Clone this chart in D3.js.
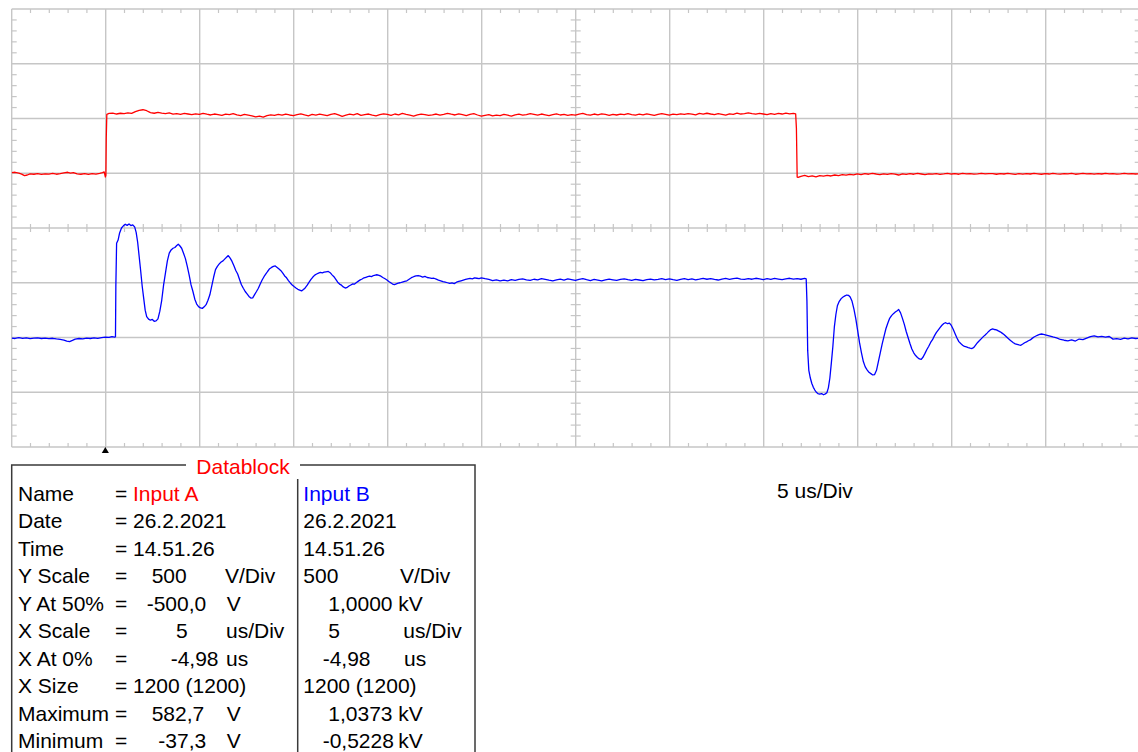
<!DOCTYPE html>
<html><head><meta charset="utf-8">
<script src="https://cdn.jsdelivr.net/npm/d3@7"></script>
<style>
body{margin:0;background:#fff;overflow:hidden}
svg{display:block}
text{font-family:"Liberation Sans",Arial,sans-serif;font-size:21px;fill:#000}
</style>
</head><body>
<svg id="c" width="1138" height="752"></svg>
<script>
// ---------------- DATA ----------------
// Scope settings (from the datablock)
const xStart = -4.98;     // X At 0%  (us)
const usPerDiv = 5;       // X Scale
const xDivs = 12, yDivs = 8;
const aVoltsPerDiv = 500, aAt50 = -500;   // Input A
const bVoltsPerDiv = 500, bAt50 = 1000;   // Input B

// Input A trace: [time us, volts]
const inputA = [
[-4.98,6],[-4.8,9],[-4.6,2],[-4.45,-8],[-4.3,-22],[-4.15,-16],[-4.0,-6],[-3.8,-9],[-3.6,-3],[-3.4,-10],[-3.2,-5],[-3.0,-8],[-2.8,-2],[-2.6,-9],[-2.4,-4],[-2.2,3],[-2.0,9],[-1.85,2],[-1.7,6],[-1.5,-5],[-1.3,-9],[-1.1,-3],[-0.9,-11],[-0.7,-4],[-0.5,-8],[-0.3,-2],[-0.15,5],[-0.06,12],[0.0,-34],[0.03,-18],
[0.05,320],[0.08,538],
[0.2,546],[0.4,549],[0.6,541],[0.8,548],[1.0,544],[1.2,552],[1.4,546],[1.6,562],[1.8,574],[2.0,580],[2.2,571],[2.4,553],[2.6,548],[2.8,556],[3.0,549],[3.2,545],[3.4,551],[3.6,540],[3.8,544],[4.0,538],[4.2,546],[4.4,541],[4.6,535],[4.8,543],[5.0,537],[5.2,547],[5.4,539],[5.6,532],[5.8,541],[6.0,536],[6.2,529],[6.4,540],[6.6,535],[6.8,544],[7.0,533],[7.2,527],[7.4,538],[7.6,531],[7.8,524],[8.0,515],[8.2,521],[8.4,512],[8.6,526],[8.8,533],[9.0,528],[9.2,537],[9.4,530],[9.6,541],[9.8,532],[10.0,527],[10.2,536],[10.4,543],[10.6,533],[10.8,525],[11.0,537],[11.2,531],[11.4,540],[11.6,534],[11.8,526],[12.0,538],[12.2,545],[12.4,533],[12.6,520],[12.8,531],[13.0,539],[13.2,534],[13.4,544],[13.6,528],[13.8,536],[14.0,541],[14.2,530],[14.4,524],[14.6,535],[14.8,543],[15.0,537],[15.2,529],[15.4,541],[15.6,534],[15.8,546],[16.0,538],[16.2,531],[16.4,522],[16.6,533],[16.8,540],[17.0,536],[17.2,528],[17.4,534],[17.6,541],[17.8,530],[18.0,537],[18.2,547],[18.4,539],[18.6,532],[18.8,542],[19.0,535],[19.2,527],[19.4,537],[19.6,544],[19.8,532],[20.0,521],[20.2,529],[20.4,536],[20.6,524],[20.8,531],[21.0,527],[21.2,537],[21.4,530],[21.6,522],[21.8,533],[22.0,540],[22.2,531],[22.4,536],[22.6,545],[22.8,538],[23.0,530],[23.2,541],[23.4,534],[23.6,527],[23.8,536],[24.0,543],[24.2,532],[24.4,538],[24.6,529],[24.8,535],[25.0,531],[25.2,540],[25.4,547],[25.6,536],[25.8,530],[26.0,541],[26.2,534],[26.4,543],[26.6,537],[26.8,529],[27.0,538],[27.2,532],[27.4,540],[27.6,535],[27.8,544],[28.0,536],[28.2,530],[28.4,539],[28.6,533],[28.8,542],[29.0,536],[29.2,528],[29.4,537],[29.6,545],[29.8,538],[30.0,531],[30.2,540],[30.4,535],[30.6,543],[30.8,537],[31.0,545],[31.2,539],[31.4,533],[31.6,546],[31.8,540],[32.0,548],[32.2,541],[32.4,535],[32.6,544],[32.8,538],[33.0,531],[33.2,543],[33.4,537],[33.6,549],[33.8,541],[34.0,545],[34.2,552],[34.4,544],[34.6,539],[34.8,547],[35.0,541],[35.2,535],[35.4,544],[35.6,538],[35.8,546],[36.0,541],[36.2,549],[36.4,543],[36.6,547],[36.72,542],
[36.76,410],[36.8,-35],[36.85,-37],
[37.0,-28],[37.2,-20],[37.4,-30],[37.6,-24],[37.8,-33],[38.0,-22],[38.2,-27],[38.4,-19],[38.6,-25],[38.8,-16],[39.0,-21],[39.2,-13],[39.4,-18],[39.6,-10],[39.8,-15],[40.0,-6],[40.2,-12],[40.4,-4],[40.6,-9],[40.8,-2],[41.0,-7],[41.2,-13],[41.4,-5],[41.6,-10],[41.8,-3],[42.0,-8],[42.2,-16],[42.4,-6],[42.6,-11],[42.8,-4],[43.0,-9],[43.2,-2],[43.4,-7],[43.6,-12],[43.8,-5],[44.0,-8],[44.2,-3],[44.4,-10],[44.6,-6],[44.8,-1],[45.0,-7],[45.2,-4],[45.4,-9],[45.6,-2],[45.8,-6],[46.0,-3],[46.2,-8],[46.4,-5],[46.6,-1],[46.8,-6],[47.0,-4],[47.2,-4],[47.4,-9],[47.6,-3],[47.8,-7],[48.0,-2],[48.2,-6],[48.4,-10],[48.6,-4],[48.8,-8],[49.0,-3],[49.2,-7],[49.4,-2],[49.6,-5],[49.8,-9],[50.0,-4],[50.2,-7],[50.4,-1],[50.6,-5],[50.8,-8],[51.0,-3],[51.2,-6],[51.4,-2],[51.6,-9],[51.8,-5],[52.0,-1],[52.2,-6],[52.4,-3],[52.6,-8],[52.8,-4],[53.0,-7],[53.2,-2],[53.4,-6],[53.6,-3],[53.8,-8],[54.0,-5],[54.2,-1],[54.4,-6],[54.6,-3],[54.8,-7],[55.02,-4]
];

// Input B trace: [time us, volts]
const inputB = [
[-4.98,-5],[-4.8,-9],[-4.6,-2],[-4.4,-8],[-4.2,-4],[-4.0,-10],[-3.8,-6],[-3.6,-3],[-3.4,-9],[-3.2,-5],[-3.0,-11],[-2.8,-7],[-2.6,-13],[-2.4,-18],[-2.2,-24],[-2.05,-33],[-1.9,-38],[-1.75,-27],[-1.6,-15],[-1.4,-9],[-1.2,-13],[-1.0,-5],[-0.8,-9],[-0.6,-3],[-0.4,-8],[-0.2,-1],[0.0,4],[0.2,1],[0.35,8],[0.5,3],[0.54,7],
[0.56,470],[0.6,860],[0.68,890],[0.76,955],[0.86,1000],[0.96,1020],[1.06,1034],[1.16,1024],[1.26,1037],[1.36,1022],[1.46,1028],[1.56,1010],[1.64,960],[1.72,870],[1.8,740],[1.88,610],[1.96,470],[2.04,360],[2.12,250],[2.2,190],[2.3,168],[2.4,158],[2.5,165],[2.6,148],[2.7,152],[2.8,170],[2.9,240],[3.0,340],[3.1,480],[3.2,590],[3.3,700],[3.4,770],[3.5,800],[3.6,815],[3.7,822],[3.8,840],[3.88,852],[3.96,838],[4.06,815],[4.16,770],[4.26,720],[4.36,650],[4.46,570],[4.56,480],[4.66,420],[4.76,350],[4.86,305],[4.96,282],[5.06,270],[5.16,266],[5.26,280],[5.36,300],[5.46,340],[5.56,390],[5.66,470],[5.76,550],[5.86,620],[5.96,650],[6.06,672],[6.16,690],[6.26,700],[6.36,718],[6.46,735],[6.54,748],[6.64,725],[6.74,695],[6.84,655],[6.94,612],[7.04,580],[7.14,530],[7.24,482],[7.34,450],[7.44,420],[7.54,398],[7.64,375],[7.74,360],[7.84,362],[7.94,392],[8.04,420],[8.14,450],[8.24,488],[8.34,525],[8.44,555],[8.54,580],[8.64,605],[8.74,628],[8.84,640],[8.94,650],[9.04,654],[9.14,640],[9.24,625],[9.34,610],[9.44,588],[9.54,562],[9.64,545],[9.74,520],[9.84,498],[9.94,480],[10.04,465],[10.14,452],[10.24,440],[10.34,433],[10.44,426],[10.54,438],[10.64,455],[10.74,478],[10.84,505],[10.94,530],[11.04,552],[11.14,570],[11.24,580],[11.34,588],[11.44,594],[11.54,590],[11.64,596],[11.74,600],[11.86,603],[11.96,592],[12.06,572],[12.16,555],[12.26,530],[12.36,505],[12.46,488],[12.56,478],[12.66,462],[12.76,452],[12.84,455],[12.96,470],[13.06,480],[13.16,490],[13.26,488],[13.36,502],[13.46,515],[13.56,526],[13.66,534],[13.76,545],[13.86,550],[13.96,555],[14.06,560],[14.16,556],[14.26,566],[14.36,570],[14.44,573],[14.56,568],[14.66,560],[14.76,548],[14.88,536],[14.98,525],[15.08,512],[15.18,500],[15.28,488],[15.38,483],[15.48,490],[15.58,496],[15.68,500],[15.8,506],[15.92,512],[16.04,518],[16.16,532],[16.28,546],[16.4,555],[16.52,562],[16.64,566],[16.76,560],[16.88,552],[17.0,558],[17.12,548],[17.24,544],[17.36,540],[17.48,541],[17.6,533],[17.72,524],[17.84,518],[17.96,510],[18.08,506],[18.2,500],[18.32,494],[18.44,498],[18.56,492],[18.68,505],[18.8,512],[18.92,518],[19.04,524],[19.16,530],[19.28,535],[19.4,540],[19.52,536],[19.64,544],[19.76,541],[19.88,538],[20.0,545],
[20.2,537],[20.4,530],[20.6,520],[20.8,526],[21.0,518],[21.2,524],[21.4,517],[21.6,528],[21.8,522],[22.0,530],[22.2,535],[22.4,527],[22.6,521],[22.8,532],[23.0,526],[23.2,538],[23.4,531],[23.6,524],[23.8,518],[24.0,527],[24.2,533],[24.4,525],[24.6,536],[24.8,529],[25.0,522],[25.2,531],[25.4,537],[25.6,528],[25.8,520],[26.0,530],[26.2,524],[26.4,517],[26.6,526],[26.8,533],[27.0,527],[27.2,521],[27.4,530],[27.6,535],[27.8,528],[28.0,522],[28.2,531],[28.4,525],[28.6,519],[28.8,528],[29.0,533],[29.2,526],[29.4,531],[29.6,537],[29.8,529],[30.0,535],[30.2,528],[30.4,522],[30.6,531],[30.8,538],[31.0,529],[31.2,535],[31.4,527],[31.6,533],[31.8,540],[32.0,532],[32.2,538],[32.4,530],[32.6,525],[32.8,534],[33.0,539],[33.2,531],[33.4,537],[33.6,543],[33.8,534],[34.0,530],[34.2,538],[34.4,532],[34.6,541],[34.8,535],[35.0,529],[35.2,537],[35.4,531],[35.6,539],[35.8,534],[36.0,528],[36.2,536],[36.4,541],[36.6,533],[36.8,538],[37.0,532],[37.2,540],[37.28,536],
[37.32,330],[37.36,-120],[37.42,-300],[37.5,-370],[37.58,-420],[37.66,-455],[37.74,-480],[37.82,-500],[37.9,-512],[38.0,-518],[38.1,-512],[38.2,-523],[38.3,-515],[38.38,-505],[38.46,-460],[38.54,-370],[38.62,-230],[38.7,-80],[38.78,100],[38.86,210],[38.94,290],[39.04,330],[39.14,355],[39.24,370],[39.34,380],[39.44,388],[39.54,384],[39.62,370],[39.72,330],[39.82,260],[39.92,170],[40.02,60],[40.12,-50],[40.22,-140],[40.32,-220],[40.42,-268],[40.52,-295],[40.62,-318],[40.72,-330],[40.82,-342],[40.92,-338],[41.02,-300],[41.12,-220],[41.22,-140],[41.32,-60],[41.42,10],[41.52,80],[41.62,130],[41.72,175],[41.82,200],[41.92,218],[42.02,232],[42.12,245],[42.2,256],[42.3,225],[42.4,175],[42.5,120],[42.6,55],[42.7,0],[42.8,-55],[42.9,-105],[43.0,-140],[43.1,-165],[43.2,-182],[43.3,-196],[43.4,-200],[43.5,-178],[43.6,-145],[43.7,-110],[43.8,-80],[43.9,-45],[44.0,-20],[44.1,15],[44.2,45],[44.3,68],[44.4,90],[44.5,112],[44.6,128],[44.7,135],[44.8,126],[44.9,132],[45.0,110],[45.1,75],[45.2,35],[45.3,-5],[45.4,-38],[45.5,-55],[45.6,-70],[45.7,-82],[45.8,-86],[45.9,-92],[46.0,-97],[46.1,-101],[46.2,-90],[46.3,-68],[46.4,-45],[46.5,-28],[46.6,-10],[46.7,8],[46.8,23],[46.9,40],[47.0,58],[47.1,72],[47.2,78],[47.3,73],[47.4,70],[47.5,60],[47.6,52],[47.7,40],[47.8,28],[47.9,12],[48.0,-5],[48.1,-20],[48.2,-35],[48.3,-48],[48.4,-58],[48.5,-63],[48.6,-68],[48.7,-71],[48.8,-60],[48.9,-48],[49.0,-40],[49.1,-30],[49.2,-22],[49.3,-8],[49.4,5],[49.5,14],[49.6,22],[49.7,28],[49.8,32],[49.9,29],[50.0,25],[50.2,15],[50.4,5],[50.6,-3],[50.8,-18],[51.0,-25],[51.2,-30],[51.4,-22],[51.6,-32],[51.8,-14],[52.0,-20],[52.2,-5],[52.4,8],[52.6,14],[52.8,5],[53.0,10],[53.2,3],[53.4,9],[53.6,-15],[53.8,-10],[54.0,-17],[54.2,-6],[54.4,-12],[54.6,-4],[54.8,-9],[55.02,-6]
];

// Datablock text
const rowLabels = ["Name","Date","Time","Y Scale","Y At 50%","X Scale","X At 0%","X Size","Maximum","Minimum"];
const aValues = ["Input A","26.2.2021","14.51.26","500","-500,0","5","-4,98","1200 (1200)","582,7","-37,3"];
const aUnits  = ["","","","V/Div","V","us/Div","us","","V","V"];
const bValues = ["Input B","26.2.2021","14.51.26","500","1,0000","5","-4,98","1200 (1200)","1,0373","-0,5228"];
const bUnits  = ["","","","V/Div","kV","us/Div","us","","kV","kV"];
const blockTitle = "Datablock";
const timebaseLabel = "5 us/Div";

// ---------------- LAYOUT ----------------
const svg = d3.select("#c");
const plotL = 11.7, plotR = 1139.7, plotT = 9, plotB = 447;
const gridColor = "#c6c6c6";

const x = d3.scaleLinear().domain([xStart, xStart + xDivs*usPerDiv]).range([plotL, plotR]);
const yA = d3.scaleLinear().domain([aAt50 - yDivs/2*aVoltsPerDiv, aAt50 + yDivs/2*aVoltsPerDiv]).range([plotB, plotT]);
const yB = d3.scaleLinear().domain([bAt50 - yDivs/2*bVoltsPerDiv, bAt50 + yDivs/2*bVoltsPerDiv]).range([plotB, plotT]);

const grid = svg.append("g").attr("stroke", gridColor).attr("stroke-width", 1.4).attr("fill","none");
const majorT = d3.range(xDivs+1).map(i => xStart + i*usPerDiv);
const majorV = d3.range(yDivs+1).map(i => aAt50 + (i - yDivs/2)*aVoltsPerDiv);
grid.selectAll("line.v").data(majorT).join("line")
  .attr("x1", d => x(d)).attr("x2", d => x(d)).attr("y1", plotT).attr("y2", plotB);
grid.selectAll("line.h").data(majorV).join("line").attr("class","h")
  .attr("x1", plotL).attr("x2", plotR).attr("y1", d => yA(d)).attr("y2", d => yA(d));

const minorT = d3.range(xDivs*5+1).filter(i => i%5).map(i => xStart + i*usPerDiv/5);
const minorV = d3.range(yDivs*5+1).filter(i => i%5).map(i => aAt50 + (i/5 - yDivs/2)*aVoltsPerDiv);
const cY = yA(aAt50), cX = x(xStart + xDivs/2*usPerDiv);
const ticks = svg.append("g").attr("stroke", gridColor).attr("stroke-width", 1.2);
[[plotT, plotT+4],[plotB-4, plotB],[cY-4, cY+4]].forEach(([a,b]) => {
  ticks.append("g").selectAll("line").data(minorT).join("line")
    .attr("x1", d => x(d)).attr("x2", d => x(d)).attr("y1", a).attr("y2", b);
});
[[plotL, plotL+5],[plotR-5, plotR],[cX-5, cX+5]].forEach(([a,b]) => {
  ticks.append("g").selectAll("line").data(minorV).join("line")
    .attr("y1", d => yA(d)).attr("y2", d => yA(d)).attr("x1", a).attr("x2", b);
});

// traces
svg.append("clipPath").attr("id","clip").append("rect")
  .attr("x", plotL).attr("y", plotT-2).attr("width", plotR-plotL).attr("height", plotB-plotT+4);
const traces = svg.append("g").attr("clip-path","url(#clip)").attr("fill","none").attr("stroke-width",1.3).attr("stroke-linejoin","round");
traces.append("path").datum(inputA).attr("stroke","#ff0000")
  .attr("d", d3.line().x(d => x(d[0])).y(d => yA(d[1])));
traces.append("path").datum(inputB).attr("stroke","#0000ff")
  .attr("d", d3.line().x(d => x(d[0])).y(d => yB(d[1])));

// trigger marker
svg.append("path").attr("d", d3.symbol(d3.symbolTriangle, 22)())
  .attr("transform", `translate(${x(0)},${plotB+4})`).attr("fill","#000");

// timebase label
svg.append("text").attr("x", 777).attr("y", 498).text(timebaseLabel);

// datablock
const boxL = 11.7, boxR = 475, boxT = 465;
const db = svg.append("g");
db.append("rect").attr("x", boxL).attr("y", boxT).attr("width", boxR-boxL).attr("height", 400)
  .attr("fill","none").attr("stroke","#3a3a3a").attr("stroke-width",1.5);
db.append("rect").attr("x", 186).attr("y", boxT-4).attr("width", 114).attr("height", 8).attr("fill","#fff");
db.append("text").attr("x", 243).attr("y", 474).attr("text-anchor","middle").style("fill","#ff0000").text(blockTitle);
db.append("line").attr("x1", 297.7).attr("x2", 297.7).attr("y1", 479).attr("y2", 760)
  .attr("stroke","#3a3a3a").attr("stroke-width",1.5);

const rowY = i => 500.7 + i*27.5;
const aNumX  = [133,133,133,151.7,146.7,176,170.7,133,151.7,158.3];
const aUnitX = [0,0,0,225,226.7,226,226,0,226.7,226.7];
const bNumX  = [303.3,303.3,303.3,303.3,328.3,328.3,322.7,303.3,328.3,322.7];
const bUnitX = [0,0,0,400,398.3,403.3,404,0,398.3,398.3];

rowLabels.forEach((lab, i) => {
  const y = rowY(i);
  db.append("text").attr("x", 18).attr("y", y).text(lab);
  db.append("text").attr("x", 115).attr("y", y).text("=");
  db.append("text").attr("x", aNumX[i]).attr("y", y).style("fill", i===0 ? "#ff0000" : "#000").text(aValues[i]);
  if (aUnits[i]) db.append("text").attr("x", aUnitX[i]).attr("y", y).text(aUnits[i]);
  db.append("text").attr("x", bNumX[i]).attr("y", y).style("fill", i===0 ? "#0000ff" : "#000").text(bValues[i]);
  if (bUnits[i]) db.append("text").attr("x", bUnitX[i]).attr("y", y).text(bUnits[i]);
});
</script>
</body></html>
